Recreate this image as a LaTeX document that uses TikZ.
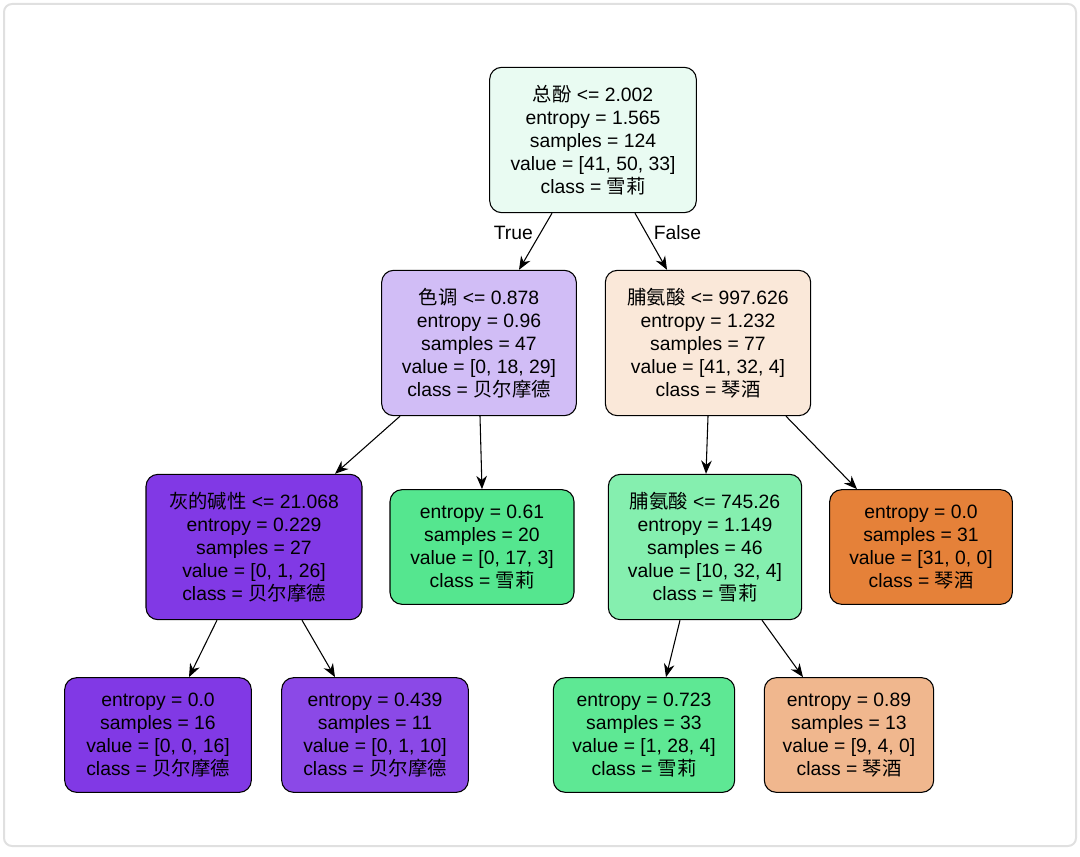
\documentclass[tikz,border=0pt]{standalone}
\usepackage{fontspec}
\setmainfont{Liberation Sans}
\newfontfamily\cjk{Noto Sans CJK SC}
\usetikzlibrary{arrows.meta}
\definecolor{c0}{HTML}{E9FBF2}
\definecolor{c1}{HTML}{D1BDF6}
\definecolor{c2}{HTML}{FAE8D9}
\definecolor{c3}{HTML}{8139E5}
\definecolor{c4}{HTML}{55E68F}
\definecolor{c5}{HTML}{85EFAF}
\definecolor{c6}{HTML}{E58139}
\definecolor{c7}{HTML}{8B49E7}
\definecolor{c8}{HTML}{5EE894}
\definecolor{c9}{HTML}{F0B78E}
\begin{document}
\begin{tikzpicture}[x=0.75pt,y=-0.75pt,
  tn/.style={draw=black,rounded corners=9pt,align=center,inner sep=0pt,line width=0.8pt,
    font=\fontsize{14.5pt}{17.3pt}\selectfont},
  ar/.style={-{Stealth[length=10pt,width=8pt]},line width=0.8pt},
  el/.style={font=\fontsize{14.5pt}{17pt}\selectfont}]
\useasboundingbox (0,0) rectangle (1080,856);
\draw[black!12,rounded corners=6pt,line width=1.5pt] (4,4) rectangle (1076,846);
\node[tn,fill=c0,minimum width=155pt,minimum height=109pt] (r) at (593,140) {{\cjk 总酚} <= 2.002\\entropy = 1.565\\samples = 124\\value = [41, 50, 33]\\class = {\cjk 雪莉}};
\node[tn,fill=c1,minimum width=146pt,minimum height=109pt] (a) at (479,343) {{\cjk 色调} <= 0.878\\entropy = 0.96\\samples = 47\\value = [0, 18, 29]\\class = {\cjk 贝尔摩德}};
\node[tn,fill=c2,minimum width=154pt,minimum height=109pt] (b) at (708,343) {{\cjk 脯氨酸} <= 997.626\\entropy = 1.232\\samples = 77\\value = [41, 32, 4]\\class = {\cjk 琴酒}};
\node[tn,fill=c3,minimum width=162pt,minimum height=109pt] (c) at (254,547) {{\cjk 灰的碱性} <= 21.068\\entropy = 0.229\\samples = 27\\value = [0, 1, 26]\\class = {\cjk 贝尔摩德}};
\node[tn,fill=c4,minimum width=138pt,minimum height=86pt] (d) at (482,547) {entropy = 0.61\\samples = 20\\value = [0, 17, 3]\\class = {\cjk 雪莉}};
\node[tn,fill=c5,minimum width=145pt,minimum height=109pt] (e) at (705,547) {{\cjk 脯氨酸} <= 745.26\\entropy = 1.149\\samples = 46\\value = [10, 32, 4]\\class = {\cjk 雪莉}};
\node[tn,fill=c6,minimum width=137pt,minimum height=86pt] (f) at (921,547) {entropy = 0.0\\samples = 31\\value = [31, 0, 0]\\class = {\cjk 琴酒}};
\node[tn,fill=c3,minimum width=140pt,minimum height=86pt] (g) at (158,735) {entropy = 0.0\\samples = 16\\value = [0, 0, 16]\\class = {\cjk 贝尔摩德}};
\node[tn,fill=c7,minimum width=140pt,minimum height=86pt] (h) at (375,735) {entropy = 0.439\\samples = 11\\value = [0, 1, 10]\\class = {\cjk 贝尔摩德}};
\node[tn,fill=c8,minimum width=136pt,minimum height=86pt] (i) at (644,735) {entropy = 0.723\\samples = 33\\value = [1, 28, 4]\\class = {\cjk 雪莉}};
\node[tn,fill=c9,minimum width=127pt,minimum height=86pt] (j) at (849,735) {entropy = 0.89\\samples = 13\\value = [9, 4, 0]\\class = {\cjk 琴酒}};
\draw[ar] (r.south -| 552,0) -- (a.north -| 519,0) node[el,pos=0.35,left=2pt] (tl) {True};
\draw[ar] (r.south -| 635,0) -- (b.north -| 667,0) node[el,pos=0.35,right=2pt] (fl) {False};
\draw[ar] (a.south -| 400,0) -- (c.north -| 335,0);
\draw[ar] (a.south -| 480,0) -- (d.north -| 482,0);
\draw[ar] (b.south -| 708,0) -- (e.north -| 706,0);
\draw[ar] (b.south -| 786,0) -- (f.north -| 857,0);
\draw[ar] (c.south -| 217,0) -- (g.north -| 189,0);
\draw[ar] (c.south -| 302,0) -- (h.north -| 335,0);
\draw[ar] (e.south -| 680,0) -- (i.north -| 666,0);
\draw[ar] (e.south -| 762,0) -- (j.north -| 803,0);
\end{tikzpicture}
\end{document}
